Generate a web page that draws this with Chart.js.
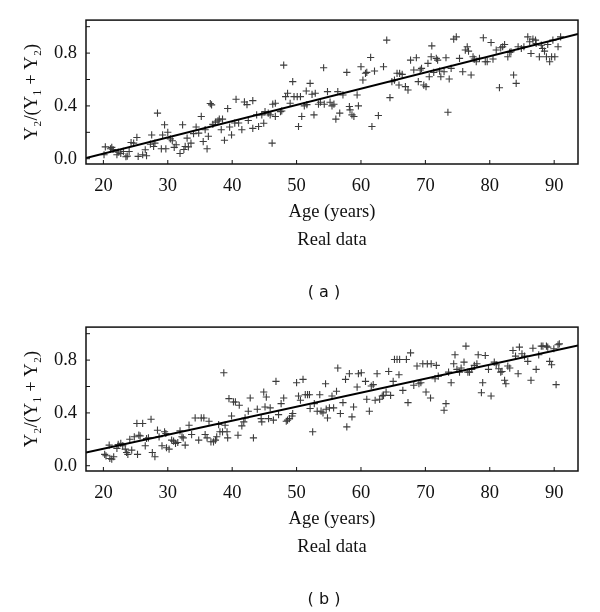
<!DOCTYPE html>
<html><head><meta charset="utf-8">
<script src="https://cdn.jsdelivr.net/npm/chart.js@4/dist/chart.umd.min.js"></script>
<style>
html,body{margin:0;padding:0;background:#fff;}
body{width:600px;height:612px;position:relative;overflow:hidden;}
.panel{position:absolute;left:0;width:600px;height:306px;}
.tag{position:absolute;left:224px;width:200px;text-align:center;font-family:"DejaVu Sans",sans-serif;font-size:16px;line-height:20px;color:#111;}
</style></head><body>
<div class="panel" style="top:0"><canvas id="ca" width="600" height="306"></canvas></div>
<div class="panel" style="top:307px"><canvas id="cb" width="600" height="306"></canvas></div>
<div class="tag" style="top:282px">( a )</div>
<div class="tag" style="top:589px">( b )</div>
<script>
const xTicks = [20,30,40,50,60,70,80,90];
const yTicks = [0,0.2,0.4,0.6,0.8,1.0];
const yLabelValues = [0,0.4,0.8];
const xTitle = ['Age (years)','Real data'];
const yTitle = 'Y\u2082/(Y\u2081 + Y\u2082)';

const ageA = [20.1,20.3,21.1,21.3,21.5,22.1,22.3,22.7,23.1,23.5,23.7,24.0,24.3,24.7,25.2,25.4,26.1,26.7,26.5,27.3,27.5,27.8,28.0,28.4,29.0,29.2,29.5,29.7,30.0,30.4,30.7,31.0,31.3,31.9,32.3,32.5,32.7,33.0,33.2,33.6,34.0,34.4,34.8,35.2,35.5,35.8,36.1,36.3,36.6,36.8,37.0,37.4,37.8,38.0,38.3,38.5,38.8,39.3,39.6,39.9,40.4,40.6,41.0,41.5,41.9,42.3,42.5,43.2,43.2,
43.8,44.1,44.6,44.9,45.1,45.6,45.9,46.2,46.3,46.7,46.7,47.5,47.7,48.0,48.3,48.6,49.0,49.4,49.6,50.1,50.3,50.6,50.8,51.2,51.6,51.5,52.1,52.4,52.7,52.9,53.4,53.7,54.2,54.3,54.8,55.2,55.5,55.8,56.1,56.4,56.7,57.2,57.8,58.2,58.3,58.6,58.9,59.4,59.6,60.0,60.3,60.7,60.9,61.5,61.7,62.1,62.7,63.5,64.0,64.5,64.8,65.2,65.6,66.0,66.4,65.9,66.9,67.3,67.7,68.2,68.6,68.9,
69.2,69.4,69.75,70.1,70.4,70.6,70.9,71.0,71.3,71.7,71.9,72.2,72.4,72.9,73.2,73.5,73.7,74.0,74.4,74.8,75.3,75.8,76.2,76.5,76.7,77.1,77.4,77.6,77.9,78.4,79.0,79.3,79.6,80.2,80.5,81.0,81.5,81.7,82.0,82.3,82.8,83.1,83.3,83.7,84.1,84.4,84.9,85.3,85.9,86.2,86.4,86.7,87.1,87.2,87.7,88.0,88.2,88.5,88.8,89.0,89.3,89.6,89.8,90.1,90.6,91.0];
const ratioA = [0.03,0.09,0.075,0.086,0.07,0.03,0.05,0.04,0.055,0.015,0.02,0.055,0.123,0.118,0.161,0.018,0.03,0.023,0.068,0.11,0.18,0.093,0.118,0.345,0.075,0.18,0.257,0.075,0.2,0.15,0.136,0.086,0.106,0.04,0.257,0.07,0.093,0.156,0.09,0.118,0.19,0.24,0.194,0.32,0.13,0.22,0.075,0.17,0.418,0.408,0.26,0.277,0.287,0.30,0.22,0.30,0.14,0.38,0.24,0.18,0.27,0.45,0.27,0.22,0.43,0.41,0.29,0.44,0.23,
0.332,0.244,0.332,0.269,0.357,0.345,0.332,0.118,0.413,0.42,0.32,0.357,0.362,0.709,0.47,0.496,0.42,0.584,0.47,0.47,0.244,0.47,0.32,0.40,0.41,0.513,0.571,0.488,0.332,0.496,0.413,0.428,0.689,0.413,0.508,0.428,0.40,0.413,0.30,0.508,0.345,0.483,0.654,0.395,0.37,0.332,0.32,0.483,0.40,0.697,0.596,0.647,0.654,0.767,0.244,0.664,0.327,0.697,0.898,0.463,0.584,0.596,0.647,0.647,0.639,0.558,0.546,0.52,0.747,0.672,0.765,0.584,
0.672,0.684,0.558,0.546,0.722,0.621,0.772,0.855,0.654,0.76,0.747,0.664,0.621,0.659,0.765,0.352,0.604,0.684,0.906,0.923,0.76,0.659,0.823,0.848,0.815,0.634,0.772,0.755,0.735,0.76,0.916,0.735,0.735,0.88,0.755,0.823,0.538,0.84,0.848,0.865,0.772,0.805,0.81,0.634,0.571,0.848,0.835,0.848,0.923,0.886,0.797,0.906,0.898,0.873,0.772,0.86,0.835,0.815,0.772,0.865,0.735,0.772,0.898,0.772,0.848,0.923];

const ageB = [20.2,20.4,20.9,21.0,21.3,21.6,22.1,22.3,22.7,23.0,23.4,23.6,23.8,24.1,24.4,24.8,25.2,25.3,25.5,25.7,26.1,26.5,26.7,27.0,27.4,27.6,28.0,28.4,28.65,29.1,29.5,29.7,29.8,30.2,30.6,30.9,31.2,31.55,31.9,32.2,32.4,32.7,33.3,33.7,34.25,34.8,35.2,35.6,35.8,36.1,36.4,36.7,37.1,37.4,37.6,37.9,38.1,38.5,38.7,38.9,39.2,39.3,39.5,39.9,40.2,40.5,40.9,41.1,41.5,41.8,42.0,42.5,42.8,43.3,
43.9,44.5,44.6,44.9,45.1,45.3,45.65,45.9,46.4,46.8,47.2,47.6,48.0,48.4,48.6,48.9,49.3,49.4,50.0,50.3,50.6,51.0,51.35,51.7,52.0,52.1,52.5,52.75,53.2,53.6,53.8,54.1,54.5,54.6,54.8,55.1,55.5,55.75,56.2,56.4,56.8,57.2,57.6,57.8,58.2,58.6,58.85,59.4,59.6,60.05,60.7,60.9,61.3,61.6,61.9,62.2,62.5,62.9,63.3,63.5,63.9,64.3,64.6,65.0,65.2,65.6,65.9,66.0,66.5,67.05,67.3,67.7,68.2,68.7,69.0,
69.3,69.6,70.3,70.9,71.7,70.1,70.8,71.5,72.0,72.9,73.2,73.6,74.0,74.4,74.6,74.9,75.3,75.55,76.0,76.3,76.6,76.85,77.2,77.6,78.0,78.2,78.7,78.9,79.3,79.8,80.2,80.7,81.0,81.4,81.7,81.9,82.3,82.5,82.8,83.1,83.6,84.0,84.4,84.6,85.0,85.4,85.9,86.4,86.7,87.2,87.6,88.0,88.25,88.8,89.0,89.3,89.6,89.95,90.3,90.6,90.8];
const ratioB = [0.086,0.075,0.156,0.055,0.05,0.068,0.131,0.161,0.169,0.151,0.126,0.10,0.086,0.20,0.118,0.219,0.32,0.086,0.231,0.226,0.32,0.151,0.206,0.211,0.352,0.10,0.068,0.269,0.219,0.151,0.257,0.244,0.136,0.126,0.194,0.186,0.169,0.176,0.264,0.219,0.211,0.156,0.307,0.236,0.362,0.194,0.362,0.362,0.236,0.211,0.337,0.181,0.181,0.194,0.219,0.312,0.257,0.257,0.704,0.307,0.257,0.211,0.508,0.377,0.483,0.483,0.231,0.458,0.302,0.332,0.362,0.413,0.513,0.211,
0.428,0.357,0.332,0.558,0.445,0.52,0.357,0.438,0.345,0.639,0.387,0.47,0.513,0.337,0.345,0.357,0.377,0.395,0.629,0.528,0.496,0.654,0.538,0.538,0.538,0.433,0.257,0.47,0.413,0.538,0.413,0.40,0.621,0.428,0.362,0.438,0.528,0.438,0.564,0.74,0.395,0.478,0.654,0.294,0.697,0.37,0.445,0.596,0.697,0.704,0.639,0.503,0.413,0.604,0.614,0.496,0.697,0.503,0.528,0.533,0.558,0.714,0.533,0.639,0.805,0.805,0.689,0.805,0.571,0.805,0.478,0.855,0.609,0.755,0.621,
0.629,0.772,0.772,0.772,0.76,0.558,0.513,0.659,0.679,0.42,0.47,0.709,0.629,0.772,0.84,0.73,0.709,0.74,0.785,0.906,0.709,0.709,0.73,0.76,0.772,0.84,0.553,0.629,0.835,0.73,0.528,0.785,0.765,0.735,0.709,0.714,0.647,0.621,0.755,0.74,0.873,0.83,0.697,0.898,0.848,0.83,0.79,0.647,0.89,0.73,0.84,0.906,0.906,0.906,0.898,0.79,0.765,0.886,0.614,0.916,0.923];

const fitAgeA = [17.3,93.7];
const fitRatioA = [0.005,0.945];
const fitAgeB = [17.3,93.7];
const fitRatioB = [0.10,0.91];

const X_MIN = 17.3, X_MAX = 93.7, Y_MIN = -0.04, Y_MAX = 1.05;
const SERIF = "'Liberation Serif','DejaVu Serif',serif";

const framePlugin = {
  id: 'frame',
  afterDatasetsDraw(chart) {
    const {ctx, chartArea: a, scales: {x, y}} = chart;
    ctx.save();
    ctx.strokeStyle = '#111';
    ctx.lineWidth = 1.5;
    ctx.strokeRect(a.left, a.top, a.right - a.left, a.bottom - a.top);
    ctx.lineWidth = 1;
    ctx.beginPath();
    xTicks.forEach(v => { const p = x.getPixelForValue(v); ctx.moveTo(p, a.bottom); ctx.lineTo(p, a.bottom - 4); });
    yTicks.forEach(v => { const p = y.getPixelForValue(v); ctx.moveTo(a.left, p); ctx.lineTo(a.left + 4, p); });
    ctx.stroke();
    ctx.restore();
  }
};

function makeChart(id, ages, ratios, fitX, fitY) {
  const pts = ages.map((a, i) => ({x: a, y: ratios[i]}));
  const fit = fitX.map((a, i) => ({x: a, y: fitY[i]}));
  return new Chart(document.getElementById(id), {
    type: 'scatter',
    data: {
      datasets: [
        {data: fit, showLine: true, borderColor: '#000', borderWidth: 2, pointRadius: 0, fill: false},
        {data: pts, pointStyle: 'cross', pointRadius: 3.6, borderWidth: 1.1, borderColor: '#3c3c3c', backgroundColor: '#3c3c3c'}
      ]
    },
    options: {
      responsive: false,
      animation: false,
      devicePixelRatio: 1,
      layout: {padding: {top: 20, right: 22, left: 0, bottom: 0}},
      plugins: {legend: {display: false}, tooltip: {enabled: false}},
      scales: {
        x: {
          type: 'linear', min: X_MIN, max: X_MAX,
          afterBuildTicks: s => { s.ticks = xTicks.map(v => ({value: v})); },
          afterFit: s => { s.height = 142; },
          grid: {display: false, drawTicks: false},
          border: {display: false},
          ticks: {padding: 11, autoSkip: false, maxRotation: 0, color: '#111', font: {family: SERIF, size: 18.5}, callback: v => String(v)},
          title: {display: true, text: xTitle, color: '#111', font: {family: SERIF, size: 18.5, lineHeight: '28px'}, padding: {top: 0, bottom: 52}}
        },
        y: {
          type: 'linear', min: Y_MIN, max: Y_MAX,
          afterBuildTicks: s => { s.ticks = yTicks.map(v => ({value: v})); },
          afterFit: s => { s.width = 86; },
          grid: {display: false, drawTicks: false},
          border: {display: false},
          ticks: {padding: 9, autoSkip: false, color: '#111', font: {family: SERIF, size: 18.5},
            callback: v => yLabelValues.some(l => Math.abs(l - v) < 1e-6) ? v.toFixed(1) : ''},
          title: {display: true, text: yTitle, color: '#111', font: {family: SERIF, size: 18.5}, padding: {top: 21, bottom: 0}}
        }
      }
    },
    plugins: [framePlugin]
  });
}

makeChart('ca', ageA, ratioA, fitAgeA, fitRatioA);
makeChart('cb', ageB, ratioB, fitAgeB, fitRatioB);
</script>
</body></html>
